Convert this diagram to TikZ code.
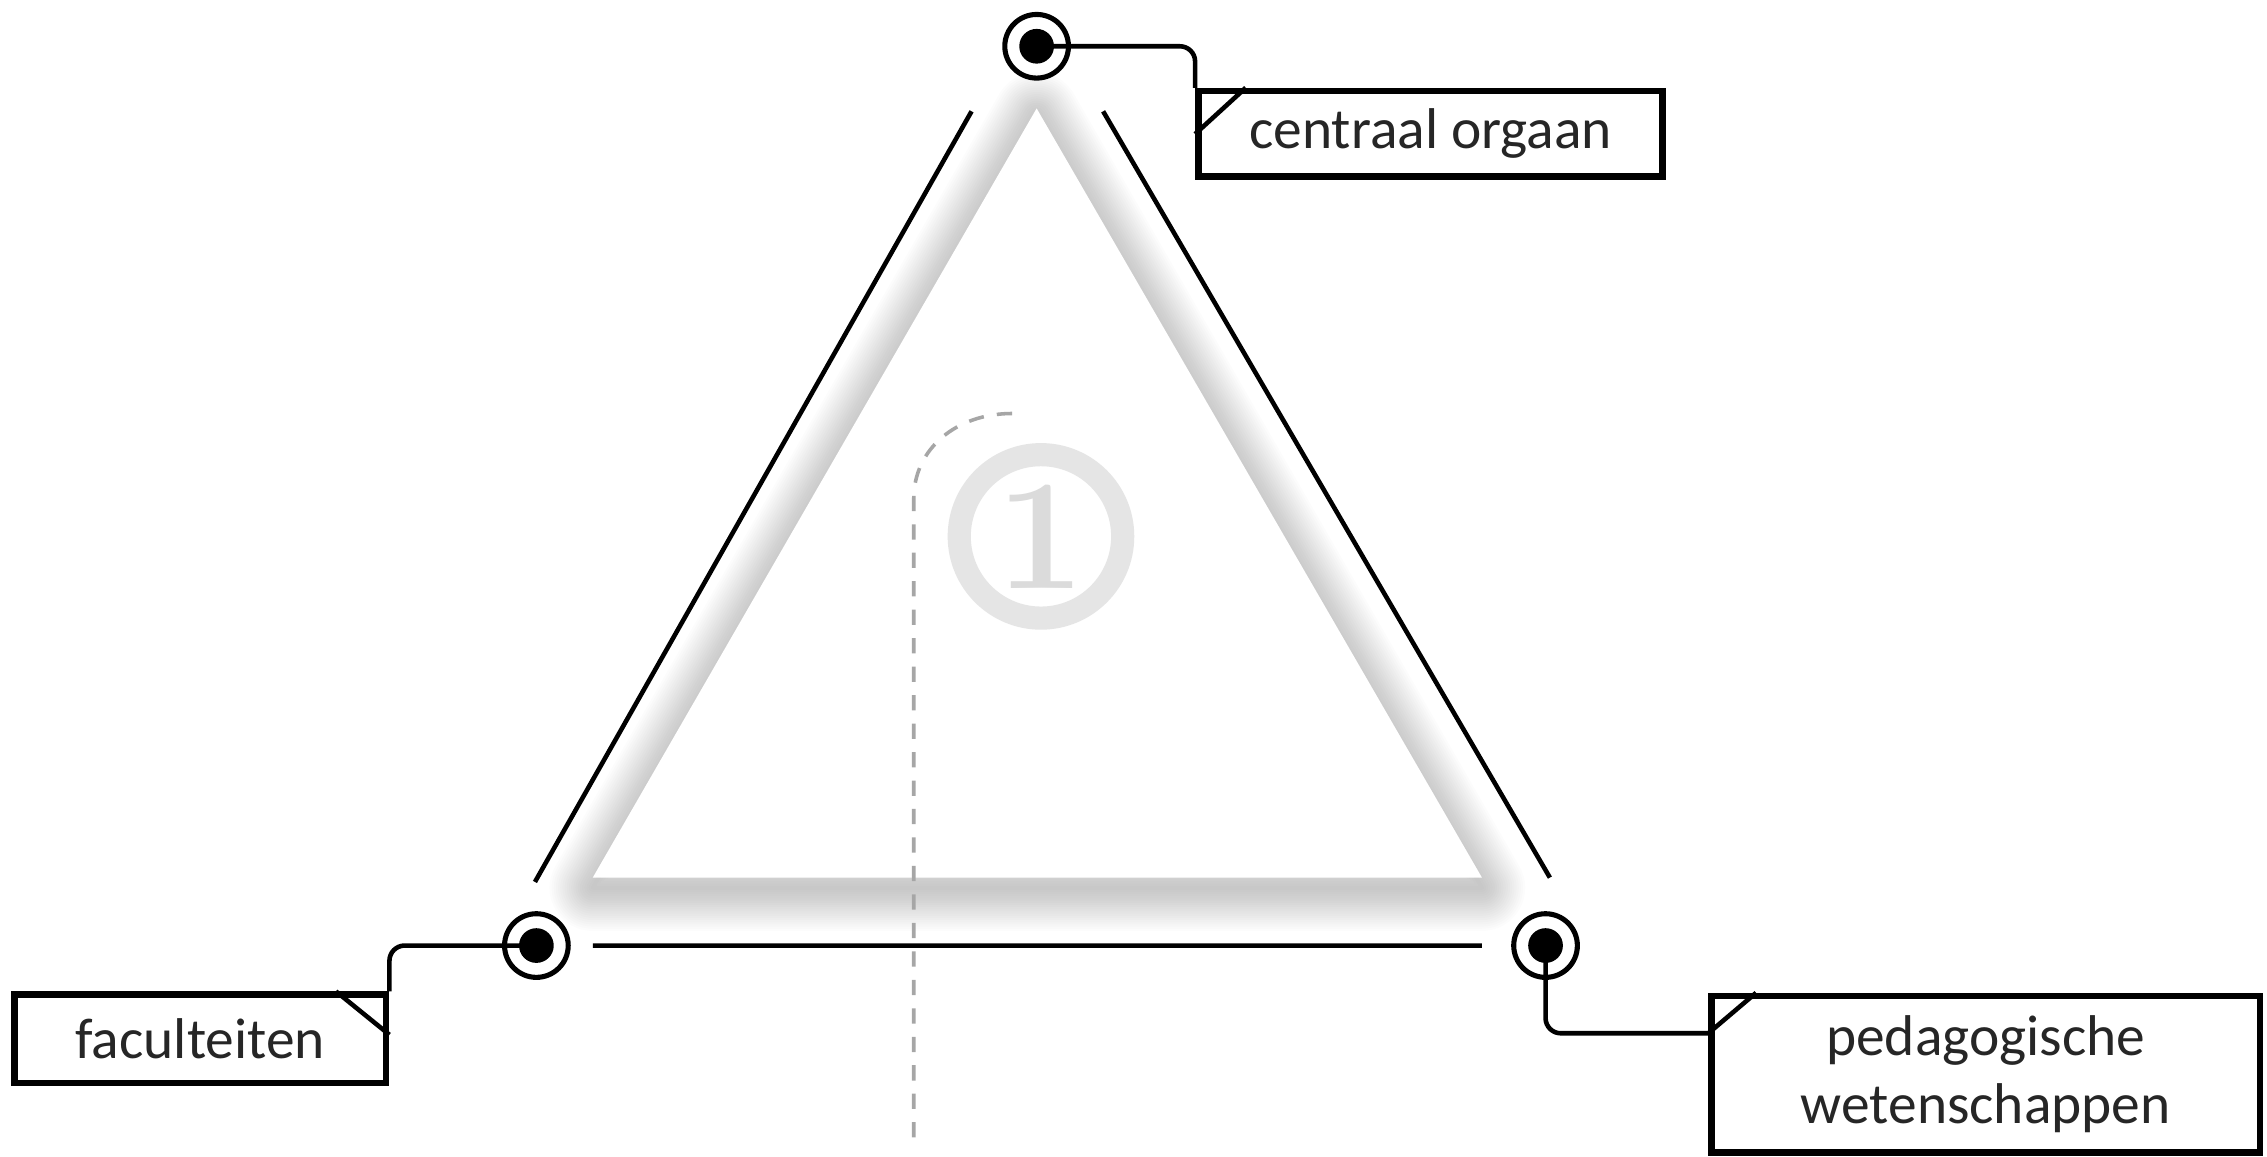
\documentclass[tikz,border=0pt]{standalone}
\usepackage{fontspec}
\newfontfamily\labelfont{Carlito}
\usetikzlibrary{calc}

\begin{document}
\begin{tikzpicture}[x=0.01cm,y=-0.01cm,line width=.9pt,
  vertex/.style={circle,draw,line width=1pt,inner sep=0pt,minimum size=0.44cm,
    path picture={\fill (path picture bounding box.center) circle (0.12cm);}},
  tag/.style={draw,fill=white,line width=1.3pt,inner sep=0pt,align=center,
    font=\labelfont\fontsize{11.3}{13.2}\selectfont,text=black!85},
  link/.style={rounded corners=3pt}]
\useasboundingbox (0,0) rectangle (1568,800);
% soft shadow behind the triangle
\foreach \w in {1,...,20}
  \draw[line width=\w*0.85pt,opacity=0.012,line join=round] (717,80)--(410,614)--(1025,614)--cycle;
\fill[white] (717,75)--(410,607)--(1025,607)--cycle;
% sides
\coordinate (a1) at (370,610); \coordinate (a2) at (672,77);
\coordinate (b1) at (763,77); \coordinate (b2) at (1072,607);
\coordinate (c1) at (410,654); \coordinate (c2) at (1025,654);
\draw (a1)--(a2) (b1)--(b2) (c1)--(c2);
% number and dashed guide
\draw[black!35,line width=.7pt,dash pattern=on 3pt off 2.6pt] (700,286) .. controls (662,286) and (632,310) .. (632,345) -- (632,792);
\node[circle,draw=black!10,line width=0.16cm,minimum size=1.13cm,inner sep=0pt,
  text=black!14,font=\bfseries\fontsize{31}{31}\selectfont] (one) at (720,371) {1};
% vertices
\node[vertex] (co) at (717,32) {};
\node[vertex] (fa) at (371,654) {};
\node[vertex] (pw) at (1069,654) {};
% labels
\node[tag,minimum width=3.21cm,minimum height=0.59cm] (coL) at (989.5,92.5) {centraal orgaan};
\node[tag,minimum width=2.57cm,minimum height=0.61cm] (faL) at (138.5,718.5) {faculteiten};
\node[tag,minimum width=3.79cm,minimum height=1.08cm] (pwL) at (1373.5,743) {pedagogische\\wetenschappen};
\draw (coL.north west) ++(0,32) -- ++(35,-32);
\draw (faL.north east) ++(-37,0) -- ++(37,30);
\draw (pwL.north west) ++(0,28) -- ++(33,-28);
\draw[link] (co.center) -| (coL.north west);
\draw[link] (fa.center) -| (faL.north east);
\draw[link] (pw.center) |- ($(pwL.north west)+(0,28)$);
\end{tikzpicture}
\end{document}
